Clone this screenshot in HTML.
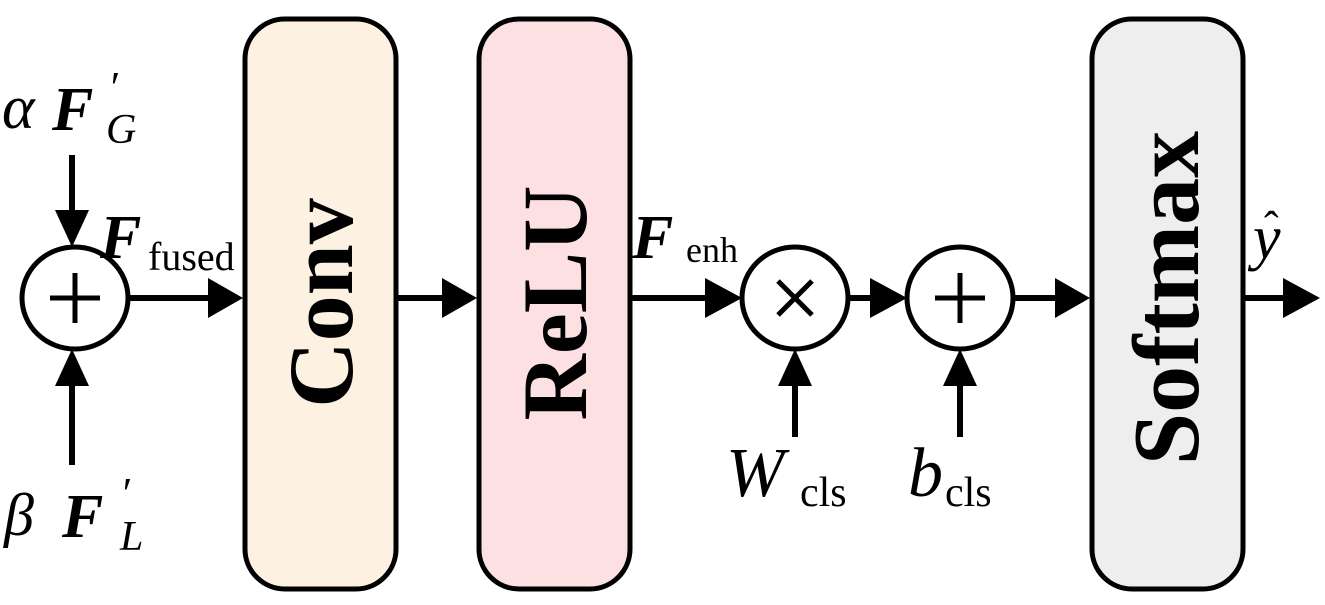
<!DOCTYPE html>
<html><head><meta charset="utf-8"><style>
html,body{margin:0;padding:0;background:#fff;}
svg{display:block;}
text{font-family:"Liberation Serif",serif;fill:#000;}
</style></head><body>
<svg width="1325" height="605" viewBox="0 0 1325 605" xmlns="http://www.w3.org/2000/svg">
<!-- boxes -->
<rect x="245" y="19" width="151" height="570" rx="40" fill="#fdf1e2" stroke="#000" stroke-width="5"/>
<rect x="479" y="19" width="151" height="570" rx="40" fill="#fde1e2" stroke="#000" stroke-width="5"/>
<rect x="1092" y="19" width="151" height="570" rx="40" fill="#eeeeee" stroke="#000" stroke-width="5"/>
<text transform="translate(352,303) rotate(-90)" text-anchor="middle" font-size="92" font-weight="bold">Conv</text>
<text transform="translate(586,303) rotate(-90)" text-anchor="middle" font-size="92" font-weight="bold">ReLU</text>
<text transform="translate(1198,298) rotate(-90)" text-anchor="middle" font-size="94" font-weight="bold">Softmax</text>
<!-- circles -->
<ellipse cx="75" cy="298" rx="53" ry="51" fill="#fff" stroke="#000" stroke-width="5"/>
<ellipse cx="795" cy="298" rx="53" ry="51" fill="#fff" stroke="#000" stroke-width="5"/>
<ellipse cx="960" cy="298" rx="53" ry="51" fill="#fff" stroke="#000" stroke-width="5"/>
<g stroke="#000" stroke-width="5">
<line x1="50" y1="298" x2="100" y2="298"/><line x1="75" y1="273" x2="75" y2="323"/>
<line x1="935" y1="298" x2="985" y2="298"/><line x1="960" y1="273" x2="960" y2="323"/>
<line x1="778" y1="281" x2="812" y2="315"/><line x1="812" y1="281" x2="778" y2="315"/>
</g>
<!-- lines -->
<g stroke="#000" stroke-width="6" fill="none">
<line x1="128" y1="298" x2="215" y2="298"/>
<line x1="398" y1="298" x2="450" y2="298"/>
<line x1="632" y1="298" x2="710" y2="298"/>
<line x1="848" y1="298" x2="875" y2="298"/>
<line x1="1013" y1="298" x2="1062" y2="298"/>
<line x1="1245" y1="298" x2="1290" y2="298"/>
<line x1="72" y1="155" x2="72" y2="215"/>
<line x1="72" y1="380" x2="72" y2="465"/>
<line x1="795" y1="380" x2="795" y2="437"/>
<line x1="960" y1="380" x2="960" y2="437"/>
</g>
<g fill="#000">
<polygon points="243,298 208,278 208,318"/>
<polygon points="477,298 442,278 442,318"/>
<polygon points="742,298 705,278 705,318"/>
<polygon points="907,298 870,278 870,318"/>
<polygon points="1090,298 1055,278 1055,318"/>
<polygon points="1320,298 1283,278 1283,318"/>
<polygon points="72,247 55,210 89,210"/>
<polygon points="72,349 55,386 89,386"/>
<polygon points="795,349 778,386 812,386"/>
<polygon points="960,349 943,386 977,386"/>
</g>
<!-- labels -->
<text x="2" y="128" font-size="62" font-style="italic">α</text>
<text x="52" y="130" font-size="62" font-style="italic" font-weight="bold">F</text>
<text x="108" y="102" font-size="44" font-style="italic">′</text>
<text x="106" y="143" font-size="42" font-style="italic">G</text>
<text x="4" y="535" font-size="60" font-style="italic">β</text>
<text x="62" y="537" font-size="62" font-style="italic" font-weight="bold">F</text>
<text x="120" y="508" font-size="44" font-style="italic">′</text>
<text x="120" y="550" font-size="42" font-style="italic">L</text>
<text x="100" y="258" font-size="62" font-style="italic" font-weight="bold">F</text>
<text x="148" y="270" font-size="40">fused</text>
<text x="632" y="258" font-size="62" font-style="italic" font-weight="bold">F</text>
<text x="686" y="262" font-size="36">enh</text>
<text x="726" y="496" font-size="70" font-style="italic">W</text>
<text x="800" y="506" font-size="42">cls</text>
<text x="908" y="496" font-size="70" font-style="italic">b</text>
<text x="945" y="506" font-size="42">cls</text>
<text x="1253" y="258" font-size="62" font-style="italic">y</text>
<text x="1264" y="242" font-size="44">ˆ</text>
</svg>
</body></html>
